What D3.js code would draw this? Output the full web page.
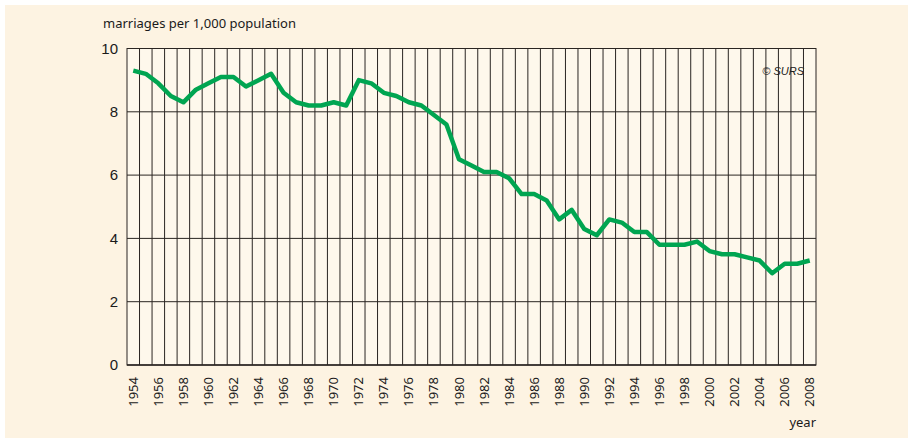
<!DOCTYPE html>
<html>
<head>
<meta charset="utf-8">
<script src="https://cdn.jsdelivr.net/npm/d3@7"></script>
<style>
  body { margin: 0; background: #fff; }
  svg { display: block; }
</style>
</head>
<body>
<svg id="chart"></svg>
<script>
// marriages per 1,000 population, Slovenia
const years = d3.range(1954, 2009);
const rates = [
  9.3, 9.2, 8.9, 8.5, 8.3, 8.7, 8.9, 9.1, 9.1, 8.8,
  9.0, 9.2, 8.6, 8.3, 8.2, 8.2, 8.3, 8.2, 9.0, 8.9,
  8.6, 8.5, 8.3, 8.2, 7.9, 7.6, 6.5, 6.3, 6.1, 6.1,
  5.9, 5.4, 5.4, 5.2, 4.6, 4.9, 4.3, 4.1, 4.6, 4.5,
  4.2, 4.2, 3.8, 3.8, 3.8, 3.9, 3.6, 3.5, 3.5, 3.4,
  3.3, 2.9, 3.2, 3.2, 3.3
];
const yTicks = [0, 2, 4, 6, 8, 10];
const xTickYears = years.filter(y => y % 2 === 0);

const W = 909, H = 438;
const m = {top: 48.5, right: 93, bottom: 73, left: 127};
const w = W - m.left - m.right;
const h = H - m.top - m.bottom;

const svg = d3.select('#chart')
  .attr('width', W)
  .attr('height', H);

// panel background
svg.append('rect')
  .attr('x', 5).attr('y', 5)
  .attr('width', W - 6).attr('height', H - 5)
  .attr('fill', '#fdf3e2');

const g = svg.append('g')
  .attr('transform', `translate(${m.left},${m.top})`);

g.append('rect')
  .attr('width', w).attr('height', h)
  .attr('fill', '#fef8ec');

const x = d3.scaleBand()
  .domain(years)
  .range([0, w]);

const y = d3.scaleLinear()
  .domain([0, 10])
  .range([h, 0]);

// © SURS (grid draws over it)
g.append('text')
  .attr('x', w - 12)
  .attr('y', 26)
  .attr('text-anchor', 'end')
  .style('font', 'italic 11px "Liberation Sans", Arial, sans-serif')
  .attr('fill', '#222')
  .text('© SURS');

// vertical grid at band boundaries
g.append('g')
  .selectAll('line')
  .data(years.slice(1))
  .join('line')
    .attr('x1', d => x(d)).attr('x2', d => x(d))
    .attr('y1', 0).attr('y2', h)
    .attr('stroke', '#2a2522')
    .attr('stroke-width', 1);

// horizontal grid
g.append('g')
  .selectAll('line')
  .data(yTicks)
  .join('line')
    .attr('x1', 0).attr('x2', w)
    .attr('y1', d => y(d)).attr('y2', d => y(d))
    .attr('stroke', '#2a2522')
    .attr('stroke-width', d => d === 0 ? 1.5 : 1);

// frame
g.append('rect')
  .attr('width', w).attr('height', h)
  .attr('fill', 'none')
  .attr('stroke', '#2a2522')
  .attr('stroke-width', 1);

// y axis labels
const yAxis = d3.axisLeft(y)
  .tickValues(yTicks)
  .tickSize(0)
  .tickPadding(9);
g.append('g')
  .call(yAxis)
  .call(s => s.select('.domain').remove())
  .selectAll('text')
    .style('font', '15px "Liberation Sans", Arial, sans-serif')
    .attr('fill', '#1a1a1a');

// x axis labels (rotated)
const xAxis = d3.axisBottom(x)
  .tickValues(xTickYears)
  .tickSize(0);
g.append('g')
  .attr('transform', `translate(0,${h})`)
  .call(xAxis)
  .call(s => s.select('.domain').remove())
  .selectAll('text')
    .attr('transform', 'rotate(-90)')
    .attr('x', -12)
    .attr('y', 0)
    .attr('dy', '0.35em')
    .attr('text-anchor', 'end')
    .style('font', '13px "Noto Sans", sans-serif')
    .attr('fill', '#1a1a1a');

// line
const line = d3.line()
  .x((d, i) => x(years[i]) + x.bandwidth() / 2)
  .y(d => y(d));

g.append('path')
  .datum(rates)
  .attr('d', line)
  .attr('fill', 'none')
  .attr('stroke', '#00a551')
  .attr('stroke-width', 4.5)
  .attr('stroke-linejoin', 'round');

// titles
svg.append('text')
  .attr('x', 103)
  .attr('y', 28)
  .style('font', '13px "Noto Sans", sans-serif')
  .attr('fill', '#1a1a1a')
  .text('marriages per 1,000 population');

svg.append('text')
  .attr('x', m.left + w)
  .attr('y', 427)
  .attr('text-anchor', 'end')
  .style('font', '13px "Noto Sans", sans-serif')
  .attr('fill', '#1a1a1a')
  .text('year');
</script>
</body>
</html>
